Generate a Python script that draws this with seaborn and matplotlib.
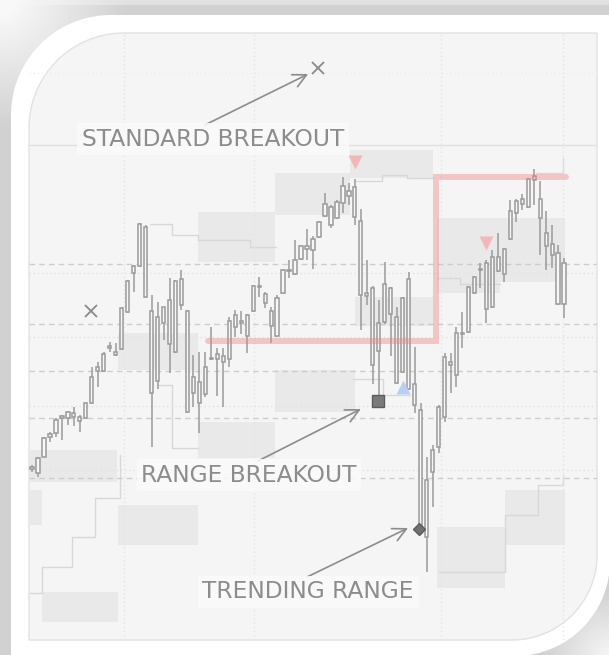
import numpy as np
import matplotlib
matplotlib.use("Agg")
import matplotlib.pyplot as plt
from matplotlib.patches import Polygon
import seaborn as sns

# ---- candles (price units, one per bar index) ----
opens = [231, 227, 243, 263, 267, 284, 282, 283, 283, 282, 297, 329, 329, 352, 348,
         351, 388, 427, 434, 473, 389, 319, 393, 356, 348, 421, 389, 307, 318, 306,
         341, 346, 344, 341, 373, 379, 364, 389, 414, 406, 389, 364, 407, 430, 426,
         441, 454, 450, 463, 484, 493, 482, 497, 509, 513, 479, 407, 412, 349, 378,
         412, 383, 328, 311, 316, 290, 163, 228, 253, 283, 338, 325, 366, 368, 407,
         430, 391, 393, 429, 426, 461, 487, 496, 493, 520, 501, 467, 456, 447, 437]
closes = [233, 242, 262, 266, 280, 282, 288, 287, 279, 297, 323, 333, 346, 354, 345,
          392, 419, 434, 476, 403, 307, 383, 377, 400, 419, 395, 288, 323, 297, 333,
          342, 341, 338, 379, 385, 377, 385, 414, 413, 397, 374, 402, 430, 429, 440,
          454, 451, 461, 478, 496, 475, 498, 514, 504, 483, 405, 404, 335, 377, 416,
          386, 317, 402, 421, 295, 167, 220, 250, 293, 343, 335, 367, 367, 413, 423,
          431, 437, 443, 443, 451, 489, 499, 501, 521, 524, 482, 454, 445, 396, 396]
highs = [235, 243, 263, 268, 282, 285, 289, 293, 285, 298, 333, 338, 348, 358, 357,
         393, 420, 435, 477, 475, 405, 398, 393, 422, 420, 430, 390, 345, 348, 348,
         373, 352, 352, 383, 390, 389, 386, 415, 423, 408, 393, 405, 431, 440, 460,
         455, 471, 464, 479, 507, 495, 500, 523, 517, 521, 491, 440, 414, 400, 438,
         413, 393, 403, 428, 353, 297, 243, 255, 295, 347, 347, 373, 388, 414, 424,
         437, 440, 450, 467, 452, 500, 501, 506, 522, 531, 519, 489, 475, 455, 442]
lows = [228, 223, 243, 258, 263, 260, 275, 274, 268, 281, 296, 313, 328, 348, 344,
        350, 387, 408, 433, 402, 253, 311, 360, 327, 347, 390, 287, 293, 267, 303,
        340, 304, 293, 333, 363, 366, 347, 388, 403, 392, 357, 363, 406, 422, 425,
        440, 440, 431, 462, 483, 472, 481, 487, 495, 475, 370, 395, 316, 303, 376,
        344, 316, 327, 310, 287, 165, 128, 193, 247, 278, 307, 313, 352, 367, 406,
        412, 377, 392, 428, 418, 460, 478, 490, 492, 495, 445, 430, 432, 395, 382]

# ---- consolidation ranges (bar index span, price span) ----
zone_x0 = [-0.4, 14.4, 27.8, 40.6, 53.2, 67.7, 67.7, 54.0, 40.6, 27.8, 14.4, -0.4, 1.7, 67.7, 79.1]
zone_x1 = [14.2, 27.8, 40.6, 53.2, 67.1, 89.1, 78.3, 67.1, 54.0, 40.6, 27.8, 1.7, 14.4, 79.1, 89.1]
zone_lo = [218, 330, 438, 485, 522, 418, 407, 374, 288, 242, 155, 175, 78, 112, 155]
zone_hi = [250, 367, 488, 527, 550, 482, 418, 403, 330, 278, 195, 210, 108, 173, 210]

# channel step lines
step_x = [[19.7, 23.4, 23.4, 27.8, 27.8, 36.5, 36.5, 40.8],
          [21.1, 23.4, 23.4, 27.8],
          [-0.3, 1.7, 1.7, 6.7, 6.7, 10.5, 10.5, 14.7, 14.7],
          [53.7, 58.7, 58.7, 63.2],
          [54.0, 58.5, 58.5, 62.7, 62.7, 67.1],
          [68.1, 79.1, 79.1, 84.6, 84.6, 88.8, 88.8],
          [84.3, 88.8, 88.8],
          [67.7, 71.6, 71.6, 78.3]]
step_y = [[476, 476, 465, 465, 460, 460, 453, 453],
          [315, 315, 252, 252],
          [107, 107, 133, 133, 163, 163, 202, 202, 245],
          [321, 321, 305, 305],
          [519, 519, 525, 525, 522, 522],
          [128, 128, 185, 185, 215, 215, 225],
          [527, 527, 542],
          [422, 422, 416, 416]]

# breakout level (pink)
level_x = [29.4, 67.6, 67.6, 89.3]
level_y = [359, 359, 523, 523]

# signal markers
cross_x, cross_y = [47.8, 9.9], [632, 389]
sell_x, sell_y = [54.0, 75.9], [538, 457]
buy_x, buy_y = [62.0], [313]
box_x, box_y = [57.9], [299]
dia_x, dia_y = [64.7], [171]

# labels: text position, arrow tail, arrow head
labels = ["STANDARD BREAKOUT", "RANGE BREAKOUT", "TRENDING RANGE"]
label_x = [30.3, 36.3, 46.2]
label_y = [561, 225, 108]
tail_x = [28.9, 37.8, 46.0]
tail_y = [575, 239, 123]
head_x = [46.2, 55.0, 62.9]
head_y = [626, 291, 172]

grid_major = [222, 282, 329, 376, 436]
grid_minor = [230, 294, 363, 427]
vgrid = [15.4, 37.1, 68.4, 88.8]

sns.set_theme(style="white")
plt.rcParams['font.family'] = ['DejaVu Sans']

W, H = 609, 655
fig = plt.figure(figsize=(W / 100, H / 100), dpi=100)

# ---- frame / card decoration (pixel space) ----
bg = fig.add_axes([0, 0, 1, 1])
bg.set_xlim(0, W)
bg.set_ylim(H, 0)
bg.axis('off')

yy, xx = np.mgrid[0:H, 0:W]
shade = np.full((H, W), 0.82)
shade[yy < 5] = 0.88
fade_tl = np.clip((np.hypot(xx, yy) - 15) / 110, 0, 1)
shade = shade + (0.97 - shade) * (1 - fade_tl)
fade_br = np.clip((np.hypot(W - xx, H - yy) - 5) / 60, 0, 1)
shade = shade + (0.95 - shade) * (1 - fade_br)
bg.imshow(shade, extent=(0, W, H, 0), cmap='gray', vmin=0, vmax=1,
          interpolation='bilinear', zorder=0, aspect='auto')


def corner_shape(x0, y0, x1, y1, r_tl, r_br, n=50):
    t1 = np.linspace(np.pi, 1.5 * np.pi, n)
    tl = np.column_stack([x0 + r_tl + r_tl * np.cos(t1), y0 + r_tl + r_tl * np.sin(t1)])
    t2 = np.linspace(0, 0.5 * np.pi, n)
    br = np.column_stack([x1 - r_br + r_br * np.cos(t2), y1 - r_br + r_br * np.sin(t2)])
    return np.vstack([tl, [[x1, y0]], br, [[x0, y1]]])


bg.add_patch(Polygon(corner_shape(11, 15, 610, 656, 100, 95), closed=True,
                     facecolor='white', edgecolor='none', zorder=1))
bg.add_patch(Polygon(corner_shape(29, 33, 597, 640, 95, 85), closed=True,
                     facecolor='#f5f5f5', edgecolor='#e2e2e2', lw=1, zorder=2))

# ---- chart ----
ax = fig.add_axes([29 / W, (H - 640) / H, 568 / W, 607 / H])
ax.patch.set_alpha(0)
ax.set_xlim(-0.5, 94.5)
ax.set_ylim(60, 667)

ax.set_yticks(grid_major)
ax.set_xticks(vgrid)
ax.grid(axis='y', color='#cdcdcd', linestyle=(0, (4, 3)), linewidth=1)
ax.grid(axis='x', color='#e4e4e4', linestyle=(0, (1, 2)), linewidth=1)
ax.set_axisbelow('line')
for gy in grid_minor:
    ax.axhline(gy, color='#e2e2e2', linestyle=(0, (1, 2)), lw=1, zorder=1.4)
ax.axhline(555, color='#e0e0e0', lw=1, zorder=1.4)
ax.axhline(627, color='#ececec', linestyle=(0, (1, 2)), lw=1, zorder=1.4)
ax.tick_params(length=0, labelbottom=False, labelleft=False)
sns.despine(ax=ax, left=True, bottom=True)

# ranges
for x0, x1, lo, hi in zip(zone_x0, zone_x1, zone_lo, zone_hi):
    ax.bar(x0, hi - lo, width=x1 - x0, bottom=lo, align='edge',
           color='#e9e9e9', linewidth=0, zorder=1)
for sx, sy in zip(step_x, step_y):
    ax.plot(sx, sy, color='#d8d8d8', lw=1, zorder=1.2)

# candlesticks
o = np.array(opens)
c = np.array(closes)
idx = np.arange(len(o))
CANDLE = '#9a9a9a'
ax.vlines(idx, lows, highs, color=CANDLE, lw=1.1, zorder=3)
ax.bar(idx, np.maximum(np.abs(c - o), 1.5), bottom=np.minimum(o, c), width=0.55,
       color='#f7f7f7', edgecolor=CANDLE, linewidth=1.1, zorder=4)

# breakout level
sns.lineplot(x=level_x, y=level_y, sort=False, estimator=None, ax=ax,
             color='lightcoral', alpha=0.4, lw=4.3, zorder=5)
ax.lines[-1].set_solid_joinstyle('miter')

# markers
ax.plot(cross_x, cross_y, ls='none', marker='x', ms=9, mew=1.3, color='#8a8a8a', zorder=6)
ax.plot(sell_x, sell_y, ls='none', marker='v', ms=10, color='#f4b6b6', mec='none', zorder=6)
ax.plot(buy_x, buy_y, ls='none', marker='^', ms=10, color='#b7cff4', mec='none', zorder=6)
ax.plot(box_x, box_y, ls='none', marker='s', ms=8.5, mfc='#7a7a7a', mec='#5c5c5c', mew=1, zorder=6)
ax.plot(dia_x, dia_y, ls='none', marker='D', ms=6, mfc='#707070', mec='#5c5c5c', mew=1, zorder=6)

# callouts
for txt, lx, ly, tx, ty, hx, hy in zip(labels, label_x, label_y, tail_x, tail_y, head_x, head_y):
    ax.annotate('', xy=(hx, hy), xytext=(tx, ty),
                arrowprops=dict(arrowstyle='->,head_length=0.8,head_width=0.4',
                                color='#8c8c8c', lw=1.2, shrinkA=0, shrinkB=0),
                zorder=7)
    ax.text(lx, ly, txt, ha='center', va='center', fontsize=16.8, color='#8c8c8c',
            bbox=dict(boxstyle='square,pad=0.2', fc='#fafafa', ec='none', alpha=0.85),
            zorder=8)

fig.savefig('out.png', dpi=100)
